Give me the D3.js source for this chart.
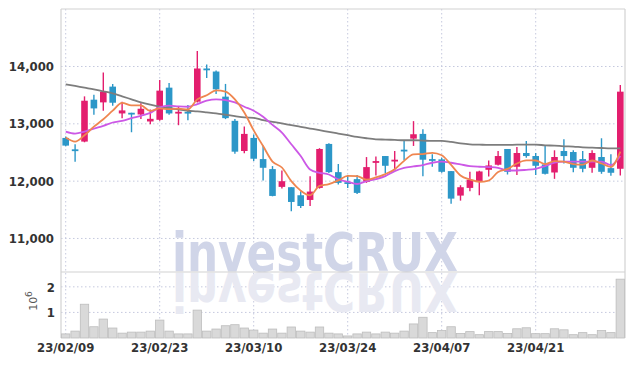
<!DOCTYPE html>
<meta charset="utf-8">
<script src="https://cdn.jsdelivr.net/npm/d3@7"></script>
<style>
  body { margin: 0; background: #fff; }
  .tick text { font-family: "Liberation Sans Narrow", "DejaVu Sans Condensed", sans-serif; font-weight: bold; fill: #333; }
</style>
<body>
<script>

// trading days shown (60 sessions)
var dates = ["23/02/09","23/02/10","23/02/13","23/02/14","23/02/15","23/02/16","23/02/17","23/02/20","23/02/21","23/02/22",
             "23/02/23","23/02/24","23/02/27","23/02/28","23/03/02","23/03/03","23/03/06","23/03/07","23/03/08","23/03/09",
             "23/03/10","23/03/13","23/03/14","23/03/15","23/03/16","23/03/17","23/03/20","23/03/21","23/03/22","23/03/23",
             "23/03/24","23/03/27","23/03/28","23/03/29","23/03/30","23/03/31","23/04/03","23/04/04","23/04/05","23/04/06",
             "23/04/07","23/04/10","23/04/11","23/04/12","23/04/13","23/04/14","23/04/17","23/04/18","23/04/19","23/04/20",
             "23/04/21","23/04/24","23/04/25","23/04/26","23/04/27","23/04/28","23/05/02","23/05/03","23/05/04","23/05/08"];

var open  = [12754,12555,12690,13421,13374,13649,13181,13193,13163,13041, 13070,13631,13193,13210,13386,13965,13912,13474,13052,12526,
             12754,12385,12210,11900,11894,11754,11672,11882,12649,12157, 11982,12035,11988,12327,12438,12350,12549,12742,12824,12385,
             12380,12175,11748,11882,11999,12198,12286,12561,12251,12491, 12438,12292,12151,12526,12508,12385,12233,12421,12227,12216];
var high  = [12780,12643,13479,13509,13895,13696,13386,13193,13357,13251, 13766,13713,13298,13327,14269,14035,13930,13696,13082,12953,
             12812,12619,12263,12187,11894,11824,12087,12575,12660,12297, 12099,12105,12420,12432,12438,12526,12701,13047,12906,12467,
             12409,12175,11929,12163,12181,12362,12526,12561,12596,12701, 12491,12614,12538,12730,12538,12526,12538,12748,12467,13678];
var low   = [12610,12339,12678,13158,13228,13316,13099,12853,13082,12994, 13052,13158,12976,13064,13374,13801,13520,13082,12479,12485,
             12350,12011,11735,11871,11473,11531,11566,11870,12140,11941, 11882,11777,11970,12099,12140,12204,12368,12614,12087,12251,
             12146,11607,11660,11824,11754,12081,12274,12116,12105,12409, 12105,12116,12040,12309,12157,12157,12146,12128,12093,12099];
var close = [12620,12545,13403,13269,13561,13368,13234,13175,13263,13087, 13579,13181,13210,13193,13965,13947,13602,13099,12514,12824,
             12391,12233,11742,11999,11637,11566,11818,12561,12157,11970, 11958,11795,12245,12350,12268,12374,12532,12818,12374,12368,
             12163,11695,11894,12023,12169,12274,12438,12163,12491,12438, 12268,12128,12421,12438,12233,12216,12491,12163,12146,13561];

var volume = [160000,270000,1320000,440000,740000,390000,190000,230000,230000,270000, 700000,270000,160000,160000,1090000,270000,350000,480000,520000,390000,
              310000,190000,350000,190000,430000,270000,230000,430000,190000,160000, 80000,160000,230000,160000,230000,190000,270000,550000,810000,210000,
              290000,440000,180000,250000,130000,250000,250000,180000,360000,400000, 170000,170000,360000,320000,130000,210000,130000,290000,210000,2300000];

// moving averages as drawn (they reach back before the window)
var ma5  = [12760,12690,12800,12950,13080,13229,13367,13321,13320,13225, 13268,13257,13264,13250,13426,13499,13583,13561,13425,13197,
            12886,12612,12341,12238,12000,11835,11752,11916,11948,12014, 12093,12088,12025,12064,12123,12206,12354,12468,12473,12493,
            12451,12284,12099,12029,11989,12011,12160,12213,12307,12361, 12360,12298,12349,12339,12298,12287,12360,12308,12250,12515];
var ma20 = [12865,12830,12865,12918,12965,13023,13052,13099,13140,13190, 13286,13316,13304,13298,13345,13403,13427,13415,13374,13298,
            13228,13123,12982,12848,12643,12438,12204,12146,12116,12030, 11990,11950,12000,12035,12087,12175,12233,12257,12280,12321,
            12339,12321,12292,12263,12251,12245,12233,12186,12186,12198, 12216,12263,12321,12339,12339,12339,12339,12339,12280,12438];
var ma60 = [13690,13661,13631,13602,13567,13532,13480,13427,13374,13333, 13298,13275,13251,13228,13216,13199,13181,13158,13134,13111,
            13105,13064,13035,13006,12976,12947,12918,12889,12859,12830, 12801,12772,12748,12730,12725,12719,12713,12713,12707,12701,
            12701,12684,12660,12643,12637,12631,12631,12631,12637,12637, 12637,12625,12619,12608,12602,12590,12584,12578,12573,12573];

var priceTicks = [11000, 12000, 13000, 14000];
var volTicks   = [1000000, 2000000];
var dateTicks  = ["23/02/09","23/02/23","23/03/10","23/03/24","23/04/07","23/04/21"];

var width = 634, height = 366;
var plotLeft = 61, plotRight = 625, plotTop = 9, split = 272, plotBottom = 338;

var upColor = "#e31e6e", downColor = "#2c97c8";

var svg = d3.select("body").append("svg")
    .attr("width", width)
    .attr("height", height);

var x  = d3.scaleBand().domain(dates).range([plotLeft, plotRight]);
var y  = d3.scaleLinear().domain([10415, 15003]).range([split, plotTop]);
var yv = d3.scaleLinear().domain([0, 2580000]).range([plotBottom, split]);

var cx = function(i) { return x(dates[i]) + x.bandwidth() / 2; };

// dotted grid
var grid = svg.append("g").attr("stroke", "#c5c9de").attr("stroke-dasharray", "1.5,2.5");
grid.selectAll(".hp").data(priceTicks).enter().append("line")
    .attr("x1", plotLeft).attr("x2", plotRight)
    .attr("y1", d => y(d)).attr("y2", d => y(d));
grid.selectAll(".hv").data(volTicks).enter().append("line")
    .attr("x1", plotLeft).attr("x2", plotRight)
    .attr("y1", d => yv(d)).attr("y2", d => yv(d));
grid.selectAll(".vx").data(dateTicks).enter().append("line")
    .attr("x1", d => x(d) + x.bandwidth() / 2).attr("x2", d => x(d) + x.bandwidth() / 2)
    .attr("y1", plotTop).attr("y2", plotBottom);

// watermark + reflection
var wm = svg.append("g").style("font-family", "'DejaVu Sans', sans-serif").style("font-weight", "bold");
wm.append("text")
    .attr("x", 172).attr("y", split - 1)
    .attr("font-size", 54)
    .attr("textLength", 286).attr("lengthAdjust", "spacingAndGlyphs")
    .attr("fill", "#d0d5e8")
    .text("investCRUX");
wm.append("text")
    .attr("transform", "translate(0," + (2 * split) + ") scale(1,-1)")
    .attr("x", 172).attr("y", split - 1)
    .attr("font-size", 54)
    .attr("textLength", 286).attr("lengthAdjust", "spacingAndGlyphs")
    .attr("fill", "#e8e9f2")
    .text("investCRUX");

// frame
var frame = svg.append("g").attr("stroke", "#d2d2d2").attr("stroke-width", 1.2);
frame.append("line").attr("x1", plotLeft).attr("x2", plotRight).attr("y1", plotTop).attr("y2", plotTop);
frame.append("line").attr("x1", plotLeft).attr("x2", plotRight).attr("y1", split).attr("y2", split);
frame.append("line").attr("x1", plotLeft).attr("x2", plotLeft).attr("y1", plotTop).attr("y2", plotBottom);
frame.append("line").attr("x1", plotRight).attr("x2", plotRight).attr("y1", plotTop).attr("y2", plotBottom);

// volume bars
svg.append("g").selectAll("rect").data(volume).enter().append("rect")
    .attr("x", (d, i) => x(dates[i]) + 0.5)
    .attr("width", x.bandwidth() - 1)
    .attr("y", d => yv(d))
    .attr("height", d => plotBottom - yv(d))
    .attr("fill", "#d9d9d9")
    .attr("stroke", "#bdbdbd")
    .attr("stroke-width", 0.8);

// candles
var idx = d3.range(dates.length);
var candles = svg.append("g").selectAll("g").data(idx).enter().append("g");
candles.append("line")
    .attr("x1", cx).attr("x2", cx)
    .attr("y1", i => y(high[i])).attr("y2", i => y(low[i]))
    .attr("stroke", i => close[i] >= open[i] ? upColor : downColor)
    .attr("stroke-width", 1.4);
candles.append("rect")
    .attr("x", i => cx(i) - 3.3)
    .attr("width", 6.6)
    .attr("y", i => y(Math.max(open[i], close[i])))
    .attr("height", i => Math.max(1.8, Math.abs(y(open[i]) - y(close[i]))))
    .attr("fill", i => close[i] >= open[i] ? upColor : downColor);

// moving average lines
var line = function(arr) {
  return d3.line().x((d, i) => cx(i)).y(d => y(d)).curve(d3.curveMonotoneX)(arr);
};
svg.append("path").attr("d", line(ma60)).attr("fill", "none").attr("stroke", "#7d7d7d").attr("stroke-width", 1.8);
svg.append("path").attr("d", line(ma20)).attr("fill", "none").attr("stroke", "#cc58e6").attr("stroke-width", 1.8);
svg.append("path").attr("d", line(ma5)).attr("fill", "none").attr("stroke", "#ef8650").attr("stroke-width", 1.8);

// axes
var yAxis = svg.append("g")
    .attr("transform", "translate(" + plotLeft + ",0)")
    .call(d3.axisLeft(y).tickValues(priceTicks).tickSize(0).tickPadding(7).tickFormat(d3.format(",")));
yAxis.select(".domain").remove();
yAxis.selectAll("text").style("font-size", "13px");

var vAxis = svg.append("g")
    .attr("transform", "translate(" + plotLeft + ",0)")
    .call(d3.axisLeft(yv).tickValues(volTicks).tickSize(0).tickPadding(6).tickFormat(d => d / 1000000));
vAxis.select(".domain").remove();
vAxis.selectAll("text").style("font-size", "13px");

var xAxis = svg.append("g")
    .attr("transform", "translate(0," + plotBottom + ")")
    .call(d3.axisBottom(x).tickValues(dateTicks).tickSize(0).tickPadding(5));
xAxis.select(".domain").remove();
xAxis.selectAll("text").style("font-size", "13px");

// volume unit
var unit = svg.append("text")
    .attr("transform", "translate(37,301) rotate(-90)")
    .attr("text-anchor", "middle")
    .style("font-family", "'DejaVu Sans', sans-serif")
    .style("font-size", "11px")
    .attr("fill", "#555");
unit.append("tspan").text("10");
unit.append("tspan").attr("dy", -5).style("font-size", "9px").text("6");

</script>
